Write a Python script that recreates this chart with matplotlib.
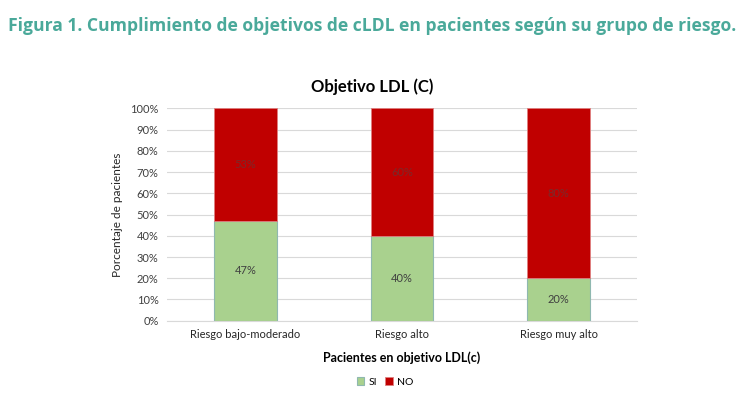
import matplotlib.pyplot as plt
import numpy as np

# datos
grupos = ['Riesgo bajo-moderado', 'Riesgo alto', 'Riesgo muy alto']
si = [47, 40, 20]
no = [53, 60, 80]
series = ['SI', 'NO']
yticks = list(range(0, 101, 10))

plt.rcParams['font.family'] = ['Lato', 'DejaVu Sans']

fig = plt.figure(figsize=(7.5, 4.05), dpi=100)
ax = fig.add_axes([0.2227, 0.2081, 0.6267, 0.5244])

x = np.arange(len(grupos))
b1 = ax.bar(x, si, width=0.4, color='#a9d18e', edgecolor='#8fb8b0', linewidth=0.8, label=series[0], zorder=3)
b2 = ax.bar(x, no, width=0.4, bottom=si, color='#c00000', edgecolor='#e08080', linewidth=0.6, label=series[1], zorder=3)

for rect, v in zip(b1, si):
    ax.text(rect.get_x() + rect.get_width() / 2, v / 2, f'{v}%', ha='center', va='center',
            fontsize=8, color='#404040', zorder=4)
for rect, v, s in zip(b2, no, si):
    ax.text(rect.get_x() + rect.get_width() / 2, s + v / 2, f'{v}%', ha='center', va='center',
            fontsize=8, color='#7a2a2a', zorder=4)

ax.set_xlim(-0.5, 2.5)
ax.set_ylim(0, 100)
ax.set_yticks(yticks)
ax.set_yticklabels([f'{t}%' for t in yticks], fontsize=8, color='#404040')
ax.set_xticks(x)
ax.set_xticklabels(grupos, fontsize=8, color='#262626')
ax.tick_params(length=0, pad=6)
ax.grid(axis='y', color='#d9d9d9', linewidth=0.8, zorder=0)
for s in ['top', 'right', 'left']:
    ax.spines[s].set_visible(False)
ax.spines['bottom'].set_color('#d9d9d9')

ax.set_ylabel('Porcentaje de pacientes', fontsize=8.5, color='#262626', labelpad=5)
ax.set_xlabel('Pacientes en objetivo LDL(c)', fontsize=9, fontweight='bold', color='#000000', labelpad=8)

fig.text(0.496, 0.787, 'Objetivo LDL (C)', ha='center', va='center', fontsize=12, fontweight='bold')
fig.text(0.011, 0.935, 'Figura 1. Cumplimiento de objetivos de cLDL en pacientes según su grupo de riesgo.',
         ha='left', va='center', fontsize=12.6, fontweight='bold', color='#4aa99a',
         family=['Open Sans', 'DejaVu Sans'])

ax.legend(loc='center', bbox_to_anchor=(0.464, -0.289), ncol=2, frameon=False, fontsize=7.5,
          handlelength=0.7, handleheight=0.7, handletextpad=0.4, columnspacing=0.8)

fig.savefig('out.png', dpi=100)
